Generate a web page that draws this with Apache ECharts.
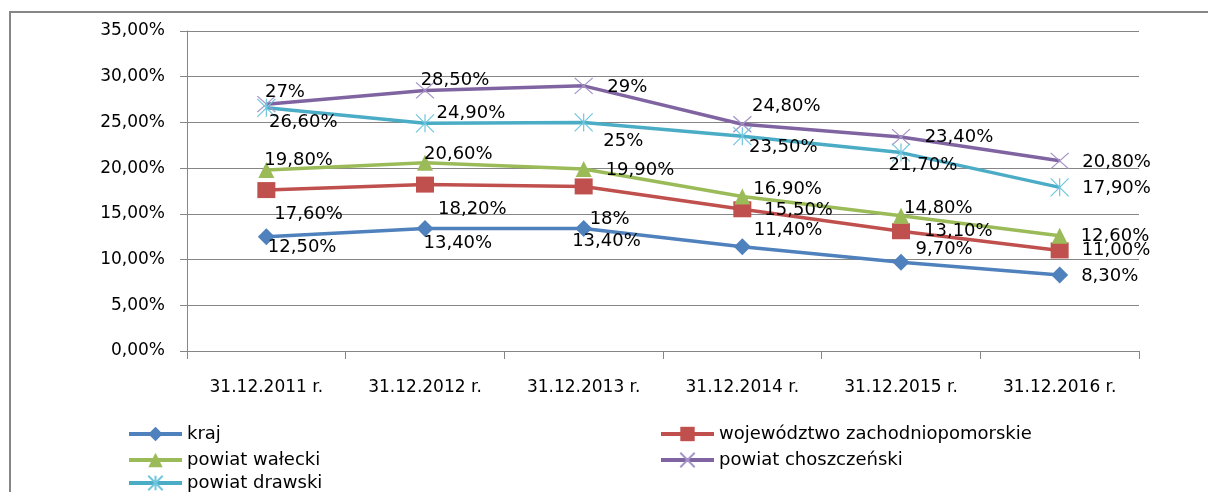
<!DOCTYPE html>
<html>
<head>
<meta charset="utf-8">
<script src="https://cdn.jsdelivr.net/npm/echarts@6/dist/echarts.min.js"></script>
<style>
  html, body { margin: 0; padding: 0; background: #fff; }
  #chart { width: 1208px; height: 492px; }
</style>
</head>
<body>
<div id="chart"></div>
<script>
// dane
var categories = ['31.12.2011 r.', '31.12.2012 r.', '31.12.2013 r.', '31.12.2014 r.', '31.12.2015 r.', '31.12.2016 r.'];
var yTickLabels = ['0,00%', '5,00%', '10,00%', '15,00%', '20,00%', '25,00%', '30,00%', '35,00%'];

var kraj = [12.5, 13.4, 13.4, 11.4, 9.7, 8.3];
var wojewodztwo = [17.6, 18.2, 18, 15.5, 13.1, 11.0];
var walecki = [19.8, 20.6, 19.9, 16.9, 14.8, 12.6];
var choszczenski = [27, 28.5, 29, 24.8, 23.4, 20.8];
var drawski = [26.6, 24.9, 25, 23.5, 21.7, 17.9];

// etykiety tak jak w oryginale (rozny format)
var krajLabels = ['12,50%', '13,40%', '13,40%', '11,40%', '9,70%', '8,30%'];
var wojLabels = ['17,60%', '18,20%', '18%', '15,50%', '13,10%', '11,00%'];
var waleckiLabels = ['19,80%', '20,60%', '19,90%', '16,90%', '14,80%', '12,60%'];
var choszLabels = ['27%', '28,50%', '29%', '24,80%', '23,40%', '20,80%'];
var drawskiLabels = ['26,60%', '24,90%', '25%', '23,50%', '21,70%', '17,90%'];

// przesuniecia etykiet wzgledem pozycji 'right'
var krajOffsets = [[-20, 11], [-23, 15], [-33, 13], [-10, -16], [-7, -13], [0, 1]];
var wojOffsets = [[-14, 24], [-9, 25], [-16, 33], [0, 1], [1, 0], [0, 0]];
var waleckiOffsets = [[-23, -10], [-22, -8], [1, 1], [-10, -7], [-18, -7], [0, 1]];
var choszOffsets = [[-24, -12], [-27, -10], [1, 1], [-13, -18], [1, 0], [0, 1]];
var drawskiOffsets = [[-20, 15], [-11, -10], [-3, 19], [-16, 11], [-35, 13], [0, 1]];

var FONT = 'DejaVu Sans';
var GRAY = '#868686';

function points(values, labels, offsets) {
  return values.map(function (v, i) {
    return { value: v, label: { formatter: labels[i], offset: offsets[i] } };
  });
}

function makeSeries(name, values, labels, offsets, lineColor, symbol, size, itemStyle) {
  return {
    name: name,
    type: 'line',
    data: points(values, labels, offsets),
    symbol: symbol,
    symbolSize: size,
    showAllSymbol: true,
    lineStyle: { color: lineColor, width: 3.5 },
    itemStyle: itemStyle,
    label: {
      show: true,
      position: 'right',
      distance: 13,
      color: '#000',
      fontFamily: FONT,
      fontSize: 18
    },
    emphasis: { disabled: true },
    animation: false
  };
}

// jedna legenda na pozycje, zeby ustawic kolumny jak w Excelu
function legendItem(name, left, top) {
  return {
    orient: 'vertical',
    left: left,
    top: top,
    padding: 0,
    itemWidth: 53,
    itemHeight: 18,
    lineStyle: { width: 4 },
    data: [name],
    textStyle: { fontFamily: FONT, fontSize: 18, color: '#000' }
  };
}

var X_PATH = 'path://M0,0L10,10M10,0L0,10';
var STAR_PATH = 'path://M0,0L10,10M10,0L0,10M5,0L5,10';

var myChart = echarts.init(document.getElementById('chart'));
myChart.setOption({
  backgroundColor: '#fff',
  graphic: [{
    type: 'polyline',
    shape: { points: [[10, 500], [10, 12], [1208, 12]] },
    style: { fill: 'none', stroke: GRAY, lineWidth: 2 },
    silent: true
  }],
  grid: { left: 187, right: 69, top: 31, bottom: 141 },
  legend: [
    legendItem('kraj', 127, 425),
    legendItem('powiat wałecki', 127, 451),
    legendItem('powiat drawski', 127, 474),
    legendItem('województwo zachodniopomorskie', 659, 425),
    legendItem('powiat choszczeński', 659, 451)
  ],
  xAxis: {
    type: 'category',
    data: categories,
    axisLine: { lineStyle: { color: GRAY, width: 1 } },
    axisTick: { show: true, length: 8, lineStyle: { color: GRAY } },
    axisLabel: { margin: 28, color: '#000', fontFamily: FONT, fontSize: 17 }
  },
  yAxis: {
    type: 'value',
    min: 0,
    max: 35,
    interval: 5,
    axisLine: { show: true, lineStyle: { color: GRAY, width: 1 } },
    axisTick: { show: true, length: 7, lineStyle: { color: GRAY } },
    splitLine: { lineStyle: { color: GRAY, width: 1 } },
    axisLabel: {
      margin: 22,
      color: '#000',
      fontFamily: FONT,
      fontSize: 17,
      formatter: function (v) { return yTickLabels[Math.round(v / 5)]; }
    }
  },
  series: [
    makeSeries('kraj', kraj, krajLabels, krajOffsets, '#4F81BD', 'diamond', [17, 17],
      { color: '#4F81BD' }),
    makeSeries('województwo zachodniopomorskie', wojewodztwo, wojLabels, wojOffsets, '#C0504D', 'rect', [18, 16],
      { color: '#C0504D' }),
    makeSeries('powiat wałecki', walecki, waleckiLabels, waleckiOffsets, '#9BBB59', 'triangle', [16, 16],
      { color: '#9BBB59' }),
    makeSeries('powiat choszczeński', choszczenski, choszLabels, choszOffsets, '#8064A2', X_PATH, [18, 16],
      { color: 'transparent', borderColor: '#A594C8', borderWidth: 1.2 }),
    makeSeries('powiat drawski', drawski, drawskiLabels, drawskiOffsets, '#4BACC6', STAR_PATH, [18, 18],
      { color: 'transparent', borderColor: '#6FC6DE', borderWidth: 1.2 })
  ]
});
</script>
</body>
</html>
